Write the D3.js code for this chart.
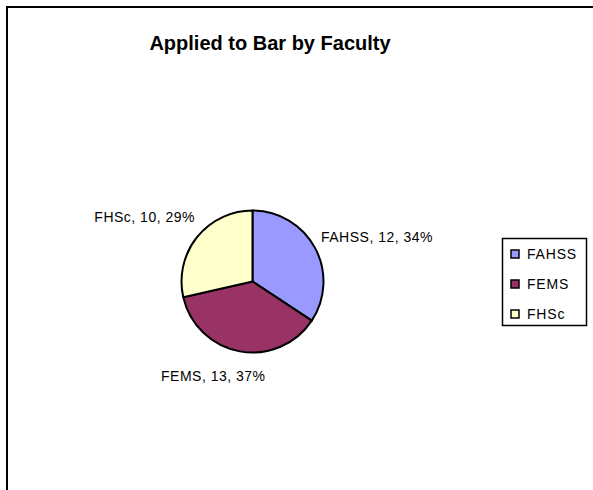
<!DOCTYPE html>
<html><head><meta charset="utf-8">
<script src="https://cdn.jsdelivr.net/npm/d3@7"></script>
<style>body{margin:0;background:#fff;}svg{display:block;}</style>
</head><body>
<svg id="c" width="593" height="490"></svg>
<script>
const categories = ["FAHSS", "FEMS", "FHSc"];
const values = [12, 13, 10];
const percents = ["34%", "37%", "29%"];
const colors = ["#9999FF", "#993366", "#FFFFCC"];
const title = "Applied to Bar by Faculty";

const svg = d3.select("#c");
const font = "'Liberation Sans', Arial, sans-serif";

svg.append("rect").attr("x", 7).attr("y", 7).attr("width", 620).attr("height", 520)
  .attr("fill", "#fff").attr("stroke", "#000").attr("stroke-width", 2);

svg.append("text").attr("x", 270).attr("y", 50).attr("text-anchor", "middle")
  .attr("font-family", font).attr("font-weight", "bold").attr("font-size", 20).text(title);

const cx = 252.5, cy = 281.5, r = 71;
const pie = d3.pie().sort(null).value(d => d)(values);
const arc = d3.arc().innerRadius(0).outerRadius(r);
const g = svg.append("g").attr("transform", `translate(${cx},${cy})`);
g.selectAll("path").data(pie).join("path")
  .attr("d", arc).attr("fill", (d, i) => colors[i])
  .attr("stroke", "#000").attr("stroke-width", 2).attr("stroke-linejoin", "round");

const labelPos = [
  {x: 321, y: 242, anchor: "start"},
  {x: 161, y: 381, anchor: "start"},
  {x: 195, y: 222, anchor: "end"}
];
svg.selectAll("text.lbl").data(categories).join("text").attr("class", "lbl")
  .attr("x", (d, i) => labelPos[i].x).attr("y", (d, i) => labelPos[i].y)
  .attr("text-anchor", (d, i) => labelPos[i].anchor)
  .attr("font-family", font).attr("font-size", 14).attr("letter-spacing", 0.5).attr("fill", "#000")
  .text((d, i) => `${d}, ${values[i]}, ${percents[i]}`);

svg.append("rect").attr("x", 502.5).attr("y", 238.5).attr("width", 84).attr("height", 87)
  .attr("fill", "#fff").attr("stroke", "#000").attr("stroke-width", 1.5);
const ly = d3.scalePoint().domain(categories).range([254, 314]);
const leg = svg.selectAll("g.leg").data(categories).join("g").attr("class", "leg")
  .attr("transform", d => `translate(511,${ly(d)})`);
leg.append("rect").attr("x", 0).attr("y", -4).attr("width", 8).attr("height", 8)
  .attr("fill", (d, i) => colors[i]).attr("stroke", "#000").attr("stroke-width", 1.5);
leg.append("text").attr("x", 16).attr("y", 5).attr("font-family", font).attr("font-size", 14)
  .attr("letter-spacing", 0.8).text(d => d);
</script>
</body></html>
